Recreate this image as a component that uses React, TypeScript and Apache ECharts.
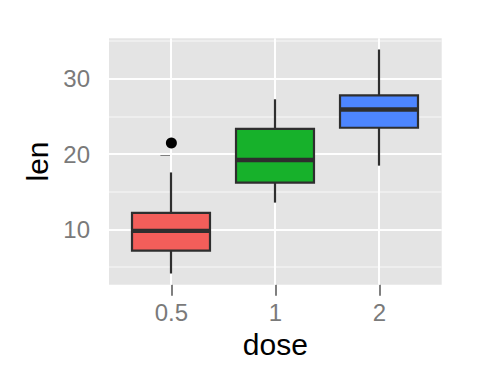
import React, { useEffect, useRef } from "react";
import * as echarts from "echarts";

// ToothGrowth len by dose
const doses = ["0.5", "1", "2"];
const whiskerLow = [4.2, 13.6, 18.5];
const q1 = [7.225, 16.25, 23.525];
const median = [9.85, 19.25, 25.95];
const q3 = [12.25, 23.375, 27.825];
const whiskerHigh = [17.6, 27.3, 33.9];
const outliers: number[][] = [[0, 21.5]];
const fills = ["#F35E5A", "#17B12B", "#4D86FF"];
const yTicks = [10, 20, 30];
const yMinor = [5, 15, 25, 35];
const xTicks = [0, 1, 2];

const dataMin = 4.2;
const dataMax = 33.9;
const pad = (dataMax - dataMin) * 0.05;

const FONT = "Liberation Sans";

export default function App() {
  const ref = useRef<HTMLDivElement>(null);
  useEffect(() => {
    const chart = echarts.init(ref.current!, null, { renderer: "svg" });
    const boxData = doses.map((_, i) => [i, whiskerLow[i], q1[i], median[i], q3[i], whiskerHigh[i]]);
    const option: any = {
      animation: false,
      grid: {
        left: 109,
        right: 38.3,
        top: 38.3,
        bottom: 99.3,
        show: true,
        backgroundColor: "#E4E4E4",
        borderWidth: 0,
      },
      xAxis: {
        type: "value",
        min: -0.6,
        max: 2.6,
        name: "dose",
        nameLocation: "middle",
        nameGap: 44,
        nameTextStyle: { fontFamily: FONT, fontSize: 30, color: "#000" },
        axisLine: { show: false },
        axisTick: { show: true, customValues: xTicks, length: 11, lineStyle: { color: "#7F7F7F", width: 2 } },
        axisLabel: {
          customValues: xTicks,
          formatter: (v: number) => doses[Math.round(v)],
          fontFamily: FONT,
          fontSize: 24,
          color: "#7A7A7A",
          margin: 16,
        },
        splitLine: { show: false },
      },
      yAxis: {
        type: "value",
        min: dataMin - pad,
        max: dataMax + pad,
        name: "len",
        nameLocation: "middle",
        nameGap: 50,
        nameRotate: 90,
        nameTextStyle: { fontFamily: FONT, fontSize: 30, color: "#000" },
        axisLine: { show: false },
        axisTick: { show: true, customValues: yTicks, length: 11, lineStyle: { color: "#7F7F7F", width: 2 } },
        axisLabel: {
          customValues: yTicks,
          fontFamily: FONT,
          fontSize: 24,
          color: "#7A7A7A",
          margin: 19,
        },
        splitLine: { show: false },
      },
      series: [
        {
          type: "custom",
          name: "gridLines",
          silent: true,
          z: 1,
          data: [[0, 10]],
          renderItem: (params: any, api: any) => {
            const cs = params.coordSys;
            const children: any[] = [];
            yMinor.forEach((v) => {
              const y = Math.round(api.coord([0, v])[1]);
              children.push({
                type: "rect",
                shape: { x: cs.x, y: y - 0.7, width: cs.width, height: 1.4 },
                style: { fill: "#F2F2F2" },
              });
            });
            yTicks.forEach((v) => {
              const y = Math.round(api.coord([0, v])[1]);
              children.push({
                type: "rect",
                shape: { x: cs.x, y: y - 1, width: cs.width, height: 2 },
                style: { fill: "#FEFEFE" },
              });
            });
            xTicks.forEach((v) => {
              const x = Math.round(api.coord([v, 10])[0]);
              children.push({
                type: "rect",
                shape: { x: x - 1, y: cs.y, width: 2, height: cs.height },
                style: { fill: "#FEFEFE" },
              });
            });
            return { type: "group", children };
          },
        },
        {
          type: "custom",
          name: "boxes",
          z: 3,
          data: boxData,
          renderItem: (params: any, api: any) => {
            const x = api.value(0);
            const c = api.coord([x, api.value(1)]);
            const yLo = c[1];
            const cx = Math.round(c[0]);
            const yQ1 = api.coord([x, api.value(2)])[1];
            const yMed = api.coord([x, api.value(3)])[1];
            const yQ3 = api.coord([x, api.value(4)])[1];
            const yHi = api.coord([x, api.value(5)])[1];
            const w = api.size([0.75, 0])[0];
            const stroke = "#2E2E2E";
            return {
              type: "group",
              children: [
                { type: "line", shape: { x1: cx, y1: yHi, x2: cx, y2: yQ3 }, style: { stroke, lineWidth: 2.2 } },
                { type: "line", shape: { x1: cx, y1: yQ1, x2: cx, y2: yLo }, style: { stroke, lineWidth: 2.2 } },
                {
                  type: "rect",
                  shape: { x: cx - w / 2, y: yQ3, width: w, height: yQ1 - yQ3 },
                  style: { fill: fills[params.dataIndex], stroke, lineWidth: 2.2 },
                },
                {
                  type: "line",
                  shape: { x1: cx - w / 2, y1: yMed, x2: cx + w / 2, y2: yMed },
                  style: { stroke, lineWidth: 4.4 },
                },
              ],
            };
          },
        },
        {
          type: "scatter",
          name: "outliers",
          z: 4,
          data: outliers,
          symbol: "circle",
          symbolSize: 11,
          itemStyle: { color: "#000000", opacity: 1 },
        },
      ],
    };
    chart.setOption(option);
    return () => chart.dispose();
  }, []);
  return (
    <div
      ref={ref}
      style={{ position: "fixed", left: 0, top: 0, width: 480, height: 384, background: "#fff" }}
    />
  );
}
